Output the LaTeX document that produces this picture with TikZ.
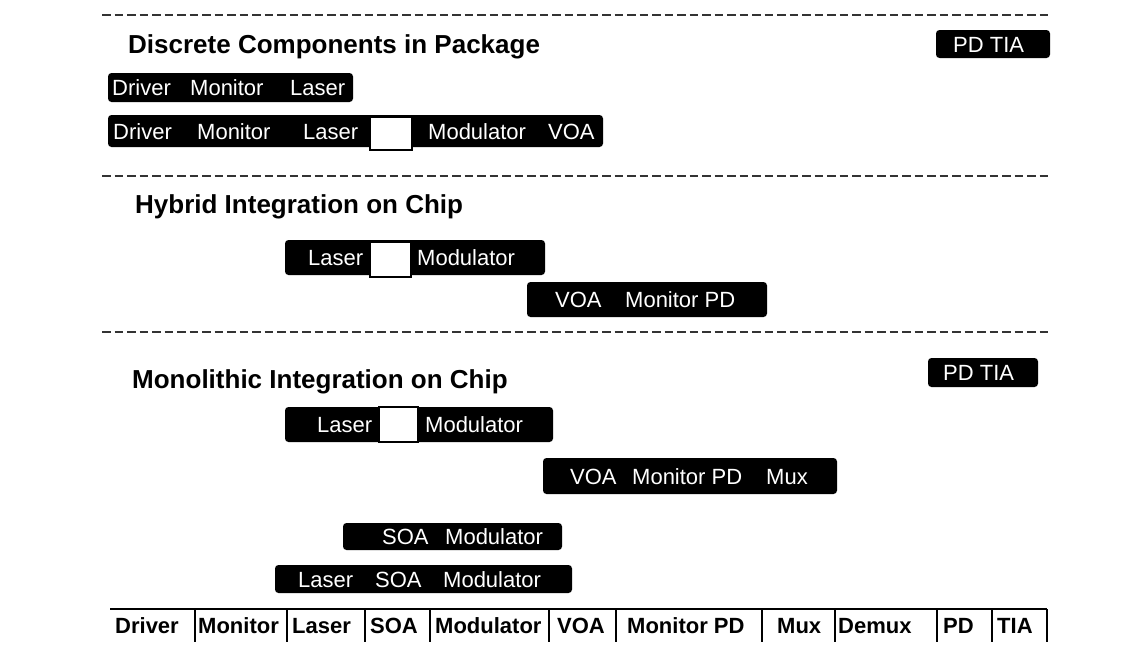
\documentclass[tikz,border=0pt]{standalone}
\usepackage{fontspec}
\setmainfont{Liberation Sans}
\newcommand{\chipfont}{\fontsize{22}{26}\selectfont}
\newcommand{\titlefont}{\fontsize{26}{30}\selectfont\bfseries}
\newcommand{\tblfont}{\fontsize{22}{26}\selectfont\bfseries}
\tikzset{
  chip/.style={fill=black, rounded corners=3.5pt},
  chiplbl/.style={text=white, font=\chipfont, anchor=base west, inner sep=0pt},
  gapbox/.style={fill=white, draw=black, line width=1.2pt},
  sectitle/.style={font=\titlefont, anchor=base west, inner sep=0pt},
  sepline/.style={line width=2.2pt, dash pattern=on 8.5pt off 4pt, black!80},
  tbllbl/.style={font=\tblfont, anchor=base west, inner sep=0pt},
}

\begin{document}
\begin{tikzpicture}[x=1pt,y=-1pt]
\useasboundingbox (0,0) rectangle (1143,645);
% separators
\foreach \y in {15,176,332} {
  \draw[sepline] (102,\y) -- (1048,\y);
}
% discrete components
\node[sectitle] (discT) at (128,53) {Discrete Components in Package};
\fill[chip] (936,30) rectangle (1050,58);
\node[chiplbl] (discRx) at (953,52) {PD TIA};
\fill[chip] (108,73) rectangle (353,102);
\foreach \x/\lab [count=\i] in {112/Driver,190/Monitor,290/Laser}
  \node[chiplbl] (discA\i) at (\x,95.5) {\lab};
\fill[chip] (108,115) rectangle (603,147);
\filldraw[gapbox] (370,117) rectangle (412,150);
\foreach \x/\lab [count=\i] in {113/Driver,197/Monitor,303/Laser,428/Modulator,548/VOA}
  \node[chiplbl] (discB\i) at (\x,139) {\lab};
% hybrid
\node[sectitle] (hybT) at (135,213) {Hybrid Integration on Chip};
\fill[chip] (285,240) rectangle (545,275);
\filldraw[gapbox] (370,242) rectangle (411,277);
\node[chiplbl] (hybA1) at (308,265.5) {Laser};
\node[chiplbl] (hybA2) at (417,265.5) {Modulator};
\fill[chip] (527,282) rectangle (767,317);
\node[chiplbl] (hybB1) at (555,307.5) {VOA};
\node[chiplbl] (hybB2) at (625,307.5) {Monitor PD};
% monolithic
\node[sectitle] (monoT) at (132,388) {Monolithic Integration on Chip};
\fill[chip] (928,358) rectangle (1038,387);
\node[chiplbl] (monoRx) at (943,380.5) {PD TIA};
\fill[chip] (285,407) rectangle (553,442);
\filldraw[gapbox] (379,407) rectangle (418,442);
\node[chiplbl] (monoA1) at (317,432.5) {Laser};
\node[chiplbl] (monoA2) at (425,432.5) {Modulator};
\fill[chip] (543,458) rectangle (837,494);
\foreach \x/\lab [count=\i] in {570/VOA,632/Monitor PD,766/Mux}
  \node[chiplbl] (monoB\i) at (\x,484) {\lab};
\fill[chip] (343,523) rectangle (562,550);
\node[chiplbl] (monoC1) at (382,544.5) {SOA};
\node[chiplbl] (monoC2) at (445,544.5) {Modulator};
\fill[chip] (275,565) rectangle (572,593);
\foreach \x/\lab [count=\i] in {298/Laser,375/SOA,443/Modulator}
  \node[chiplbl] (monoD\i) at (\x,587) {\lab};
% component scale
\draw[line width=1.8pt] (110,609) -- (1047,609);
\foreach \x in {195,287,365,430,549,616,762,835,937,992,1047}
  \draw[line width=1.8pt] (\x,609) -- (\x,642);
\foreach \x/\lab [count=\i] in {115/Driver,198/Monitor,292/Laser,370/SOA,435/Modulator,557/VOA,627/Monitor PD,777/Mux,838/Demux,943/PD,997/TIA}
  \node[tbllbl] (scale\i) at (\x,633) {\lab};
\end{tikzpicture}
\end{document}
